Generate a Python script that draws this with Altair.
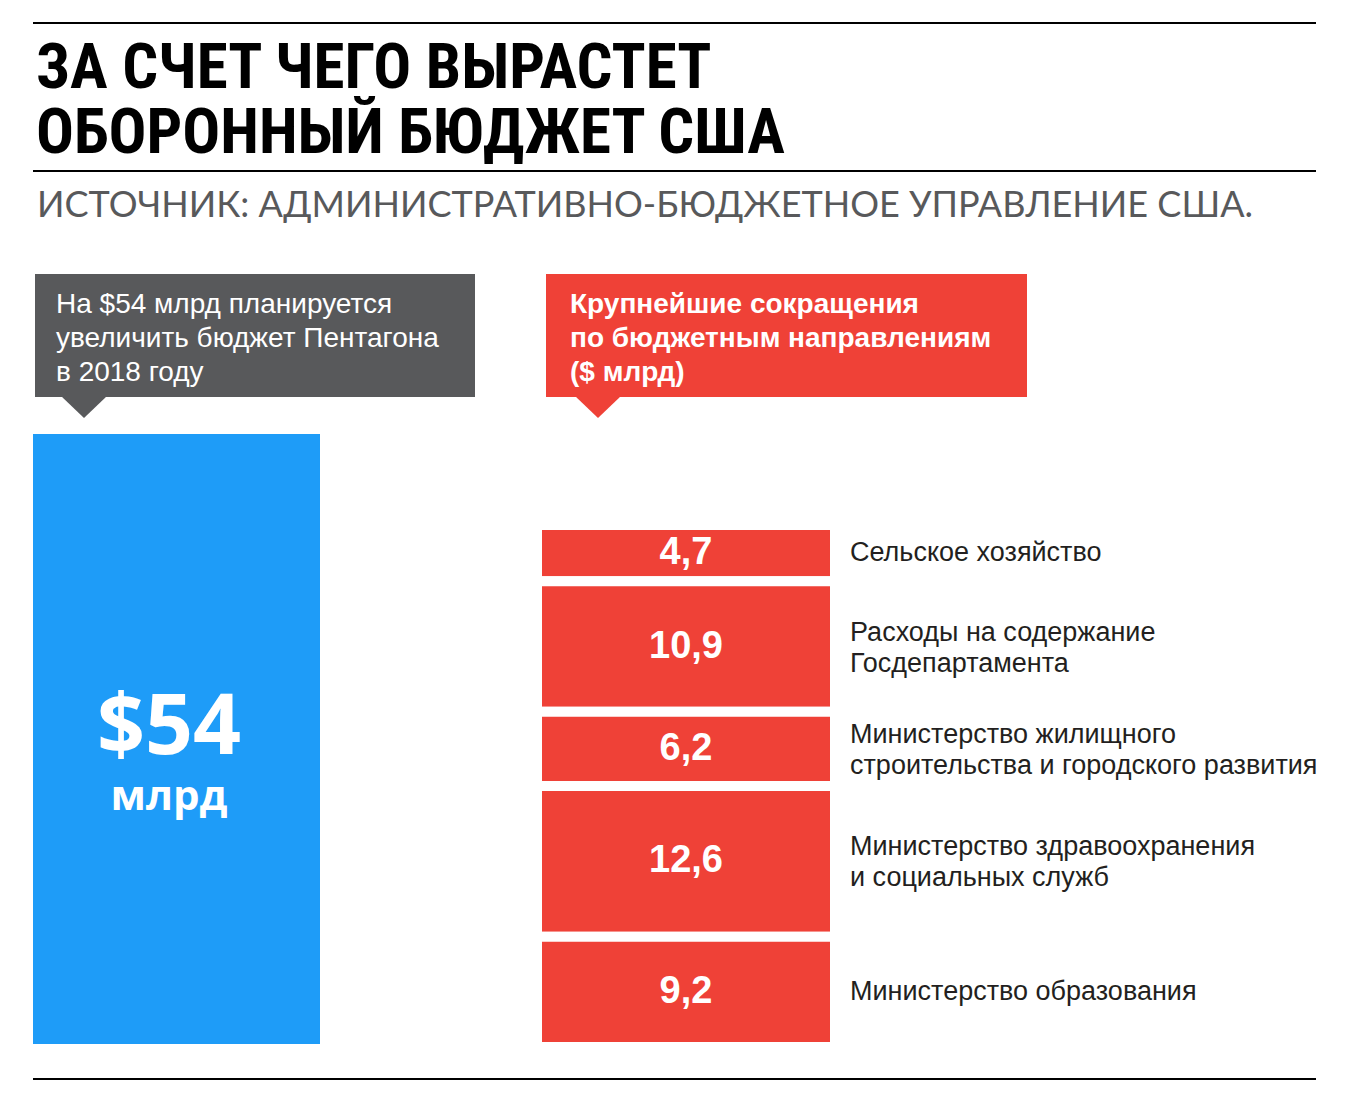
import altair as alt
import pandas as pd

# ---------------- data ----------------
title_lines = ["ЗА СЧЕТ ЧЕГО ВЫРАСТЕТ", "ОБОРОННЫЙ БЮДЖЕТ США"]
subtitle_text = "ИСТОЧНИК: АДМИНИСТРАТИВНО-БЮДЖЕТНОЕ УПРАВЛЕНИЕ США."
left_note = ["На $54 млрд планируется", "увеличить бюджет Пентагона", "в 2018 году"]
right_note = ["Крупнейшие сокращения", "по бюджетным направлениям", "($ млрд)"]

pentagon_labels = ["Пентагон"]
pentagon_values = [54]
pentagon_unit = ["млрд"]

cut_categories = [
    "Сельское хозяйство",
    "Расходы на содержание\nГосдепартамента",
    "Министерство жилищного\nстроительства и городского развития",
    "Министерство здравоохранения\nи социальных служб",
    "Министерство образования",
]
cut_values = [4.7, 10.9, 6.2, 12.6, 9.2]
cut_labels = ["4,7", "10,9", "6,2", "12,6", "9,2"]

# ---------------- style ----------------
BLUE = "#1e9cf8"
RED = "#ef4137"
GRAY = "#58595b"
INK = "#231f20"
BODY = "Liberation Sans, Arial, Helvetica, sans-serif"
TITLE_FONT = "Roboto Condensed, Open Sans Condensed, sans-serif"
SUB_FONT = "Lato, Open Sans, sans-serif"
BIG_FONT = "Open Sans, Lato, sans-serif"

W, H = 1336, 1094

left_df = pd.DataFrame({
    "label": pentagon_labels,
    "value": pentagon_values,
    "big": ["$" + str(v) for v in pentagon_values],
    "unit": pentagon_unit,
})
right_df = pd.DataFrame({
    "category": cut_categories,
    "value": cut_values,
    "label": cut_labels,
    "order": list(range(len(cut_values))),
})
total_cut = float(sum(cut_values))

blue_scale = alt.Scale(domain=[0, max(pentagon_values)], range=[1036, 426], nice=False)
red_scale = alt.Scale(domain=[0, total_cut], range=[1039, 517], nice=False)


def text_layer(txt, x, y, size, font, color, weight="normal", align="left", line_height=None, baseline="alphabetic"):
    df = pd.DataFrame({"t": [txt]})
    kw = dict(align=align, baseline=baseline, font=font, fontSize=size, fontWeight=weight,
              color=color, lineBreak="\n")
    if line_height is not None:
        kw["lineHeight"] = line_height
    return alt.Chart(df).mark_text(**kw).encode(
        x=alt.value(x), y=alt.value(y), text="t:N"
    )


def rule_layer(y):
    df = pd.DataFrame({"r": [0]})
    return alt.Chart(df).mark_rule(color="#000000", strokeWidth=2).encode(
        x=alt.value(25), x2=alt.value(1308), y=alt.value(y)
    )


def box_layer(x, x2, y, y2, color):
    df = pd.DataFrame({"r": [0]})
    return alt.Chart(df).mark_rect(color=color).encode(
        x=alt.value(x), x2=alt.value(x2), y=alt.value(y), y2=alt.value(y2)
    )


def pointer_layer(x, y, color):
    df = pd.DataFrame({"r": [0]})
    return alt.Chart(df).mark_point(
        shape="M -1 -0.52 L 1 -0.52 L 0 0.44 Z", filled=True, opacity=1, color=color,
        size=2116, strokeWidth=0
    ).encode(x=alt.value(x), y=alt.value(y))


rules = [rule_layer(15), rule_layer(163), rule_layer(1071)]
title = text_layer("\n".join(title_lines), 28, 80, 63, TITLE_FONT, "#000000", weight="bold", line_height=65)
subtitle = text_layer(subtitle_text, 29, 209, 36, SUB_FONT, GRAY)

gray_box = box_layer(27, 467, 266, 389, GRAY)
gray_ptr = pointer_layer(76, 400, GRAY)
gray_txt = text_layer("\n".join(left_note), 48, 305, 28, BODY, "#ffffff", line_height=34)

red_box = box_layer(538, 1019, 266, 389, RED)
red_ptr = pointer_layer(590, 400, RED)
red_txt = text_layer("\n".join(right_note), 562, 305, 28, BODY, "#ffffff", weight="bold", line_height=34)

blue_bar = alt.Chart(left_df).mark_rect(color=BLUE).encode(
    x=alt.value(25), x2=alt.value(312),
    y=alt.Y("value:Q", scale=blue_scale, axis=None),
    y2=alt.datum(0),
)
blue_big = alt.Chart(left_df).mark_text(
    font=BIG_FONT, fontSize=84, fontWeight="bold", color="#ffffff",
    align="center", baseline="alphabetic"
).encode(x=alt.value(161), y=alt.value(746), text="big:N")
blue_unit = alt.Chart(left_df).mark_text(
    font=BIG_FONT, fontSize=42, fontWeight="bold", color="#ffffff",
    align="center", baseline="alphabetic"
).encode(x=alt.value(161), y=alt.value(802), text="unit:N")

red_base = alt.Chart(right_df).transform_stack(
    stack="value", groupby=[], as_=["y0", "y1"],
    sort=[alt.SortField("order", order="descending")],
).transform_calculate(
    mid="(datum.y0 + datum.y1) / 2",
    multi="indexof(datum.category, '\\n') >= 0",
)

red_bars = red_base.mark_rect(color=RED, stroke="#ffffff", strokeWidth=10).encode(
    x=alt.value(529), x2=alt.value(827),
    y=alt.Y("y1:Q", scale=red_scale, axis=None),
    y2="y0:Q",
)
red_nums = red_base.mark_text(
    font=BODY, fontSize=38, fontWeight="bold", color="#ffffff", align="center", baseline="middle"
).encode(
    x=alt.value(678),
    y=alt.Y("mid:Q", scale=red_scale, axis=None),
    text="label:N",
)
red_cats_single = red_base.transform_filter("!datum.multi").mark_text(
    font=BODY, fontSize=27, color=INK, align="left", baseline="middle", lineBreak="\n", lineHeight=31
).encode(
    x=alt.value(842),
    y=alt.Y("mid:Q", scale=red_scale, axis=None),
    text="category:N",
)
red_cats_multi = red_base.transform_filter("datum.multi").mark_text(
    font=BODY, fontSize=27, color=INK, align="left", baseline="middle", lineBreak="\n", lineHeight=31,
    dy=-14
).encode(
    x=alt.value(842),
    y=alt.Y("mid:Q", scale=red_scale, axis=None),
    text="category:N",
)

chart = alt.layer(
    *rules, title, subtitle,
    gray_box, gray_ptr, gray_txt,
    red_box, red_ptr, red_txt,
    blue_bar, blue_big, blue_unit,
    red_bars, red_nums, red_cats_single, red_cats_multi,
).resolve_scale(y="independent").properties(
    width=W, height=H, autosize="none", padding=0
).configure_view(strokeOpacity=0)

chart.save("out.html", embed_options={"renderer": "svg", "actions": False})
